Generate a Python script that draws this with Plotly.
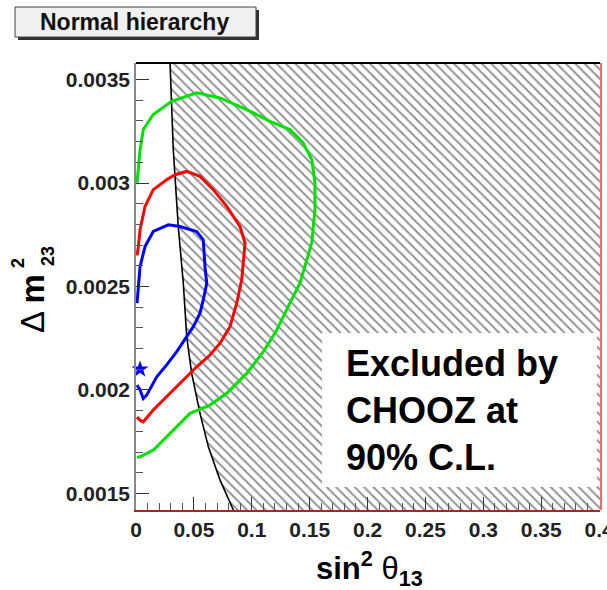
import plotly.graph_objects as go

# Axis extents and tick labels
x_range = [0.0, 0.4008]
y_range = [0.00142, 0.00358]
x_tickvals = [0, 0.05, 0.1, 0.15, 0.2, 0.25, 0.3, 0.35, 0.4]
x_ticktext = ["0", "0.05", "0.1", "0.15", "0.2", "0.25", "0.3", "0.35", "0.4"]
y_tickvals = [0.0015, 0.002, 0.0025, 0.003, 0.0035]
y_ticktext = ["0.0015", "0.002", "0.0025", "0.003", "0.0035"]

# Allowed-region contours (sin^2 theta13, delta m^2_23)
green_sin2 = [0.0009, 0.0035, 0.0063, 0.0149, 0.0308, 0.0524, 0.0726, 0.0956, 0.1158,
              0.1330, 0.1443, 0.1518, 0.1546, 0.1546, 0.1518, 0.1417, 0.1330, 0.1216,
              0.1100, 0.0956, 0.0784, 0.0639, 0.0467, 0.0294, 0.0149, 0.0035, 0.0009]
green_dm2 = [0.003001, 0.003160, 0.003258, 0.003331, 0.003395, 0.003436, 0.003411, 0.003355,
             0.003298, 0.003258, 0.003195, 0.003113, 0.003001, 0.002871, 0.002711, 0.002517,
             0.002421, 0.002290, 0.002185, 0.002080, 0.001984, 0.001927, 0.001887, 0.001790,
             0.001709, 0.001677, 0.001675]

red_sin2 = [0.0009, 0.0020, 0.0035, 0.0078, 0.0149, 0.0265, 0.0337, 0.0438, 0.0553, 0.0668,
            0.0784, 0.0898, 0.0942, 0.0927, 0.0913, 0.0870, 0.0812, 0.0726, 0.0639, 0.0524,
            0.0438, 0.0294, 0.0149, 0.0063, 0.0035, 0.0009]
red_dm2 = [0.002650, 0.002690, 0.002774, 0.002887, 0.002968, 0.003016, 0.003040, 0.003056,
           0.003032, 0.002968, 0.002887, 0.002790, 0.002710, 0.002596, 0.002532, 0.002419,
           0.002306, 0.002226, 0.002169, 0.002112, 0.002064, 0.001984, 0.001903, 0.001846,
           0.001854, 0.001869]

blue_sin2 = [0.0009, 0.0020, 0.0035, 0.0078, 0.0149, 0.0279, 0.0380, 0.0524, 0.0581, 0.0596,
             0.0611, 0.0581, 0.0553, 0.0495, 0.0423, 0.0352, 0.0265, 0.0179, 0.0092, 0.0063,
             0.0035, 0.0009]
blue_dm2 = [0.002420, 0.002480, 0.002596, 0.002693, 0.002766, 0.002798, 0.002790, 0.002766,
            0.002726, 0.002596, 0.002516, 0.002435, 0.002371, 0.002306, 0.002242, 0.002185,
            0.002121, 0.002064, 0.001975, 0.001959, 0.002000, 0.002024]

# Best-fit point
best_sin2 = [0.0035]
best_dm2 = [0.00210]

# CHOOZ 90% C.L. exclusion boundary
chooz_sin2 = [0.0294, 0.0322, 0.0365, 0.0409, 0.0438, 0.0481, 0.0553, 0.0625, 0.0726, 0.0841]
chooz_dm2 = [0.00358, 0.003161, 0.00279, 0.002512, 0.002257, 0.00208, 0.001887, 0.001725,
             0.001564, 0.00142]

FONT = "Liberation Sans, Arial, sans-serif"

fig = go.Figure()

# Hatched excluded region to the right of the CHOOZ boundary
fig.add_trace(go.Scatter(
    x=chooz_sin2 + [x_range[1], x_range[1]],
    y=chooz_dm2 + [y_range[0], y_range[1]],
    mode="none", fill="toself", fillcolor="rgba(0,0,0,0)",
    fillpattern=dict(shape="\\", size=6.6, solidity=0.28, fgcolor="#222", bgcolor="white"),
    hoverinfo="skip", showlegend=False,
))
fig.add_trace(go.Scatter(x=chooz_sin2, y=chooz_dm2, mode="lines",
                         line=dict(color="black", width=1.6), showlegend=False))

for xs, ys, col in [(green_sin2, green_dm2, "#00e000"),
                    (red_sin2, red_dm2, "#ff0000"),
                    (blue_sin2, blue_dm2, "#0000ff")]:
    fig.add_trace(go.Scatter(x=xs, y=ys, mode="lines",
                             line=dict(color=col, width=3), showlegend=False))

fig.add_trace(go.Scatter(x=best_sin2, y=best_dm2, mode="markers",
                         marker=dict(symbol="star", size=13, color="#0000ff"),
                         showlegend=False, cliponaxis=False))

# Plot area is 136..600 px horizontally and 63..510 px vertically
L, R, T, B = 136, 600, 63, 510
W, H = R - L, B - T


def px(x):
    return (x - L) / W


def py(y):
    return (B - y) / H


shapes = [
    # white panel behind the exclusion note
    dict(type="rect", xref="paper", yref="paper", x0=px(322), x1=px(597), y0=py(487), y1=py(333),
         fillcolor="white", line=dict(width=0), layer="above"),
    # frame: top and right edges
    dict(type="line", xref="paper", yref="paper", x0=0, x1=1, y0=1, y1=1,
         line=dict(color="black", width=2)),
    dict(type="line", xref="paper", yref="paper", x0=px(601), x1=px(601), y0=0, y1=1,
         line=dict(color="#e87070", width=2)),
    # title box with drop shadow
    dict(type="rect", xref="paper", yref="paper", x0=px(18), x1=px(259), y0=py(40), y1=py(10),
         fillcolor="#303030", line=dict(width=0)),
    dict(type="rect", xref="paper", yref="paper", x0=px(15), x1=px(256), y0=py(37), y1=py(7),
         fillcolor="#f0f0f0", line=dict(color="#404040", width=1)),
]

annotations = [
    dict(text="<b>Normal hierarchy</b>", xref="paper", yref="paper", x=px(134), y=py(22),
         xanchor="center", yanchor="middle", showarrow=False,
         font=dict(family=FONT, size=23, color="#111")),
    dict(text="<b>Excluded by<br>CHOOZ at<br>90% C.L.</b>", xref="paper", yref="paper",
         x=px(344), y=py(410), xanchor="left", yanchor="middle", align="left", showarrow=False,
         font=dict(family=FONT, size=36, color="black")),
    # y-axis title: delta m^2_23 with stacked indices
    dict(text="Δ <b>m</b>", xref="paper", yref="paper", x=px(32), y=py(304), textangle=-90,
         xanchor="center", yanchor="middle", showarrow=False,
         font=dict(family=FONT, size=33, color="black")),
    dict(text="<b>2</b>", xref="paper", yref="paper", x=px(18), y=py(263), textangle=-90,
         xanchor="center", yanchor="middle", showarrow=False,
         font=dict(family=FONT, size=18, color="black")),
    dict(text="<b>23</b>", xref="paper", yref="paper", x=px(48), y=py(256), textangle=-90,
         xanchor="center", yanchor="middle", showarrow=False,
         font=dict(family=FONT, size=18, color="black")),
    # x-axis title
    dict(text="<b>sin<sup>2</sup></b> θ<sub><b>13</b></sub>", xref="paper", yref="paper",
         x=px(369), y=py(568), xanchor="center", yanchor="middle", showarrow=False,
         font=dict(family=FONT, size=31, color="black")),
]

fig.update_layout(
    width=607, height=590,
    margin=dict(l=L, r=607 - R, t=T, b=590 - B, autoexpand=False),
    paper_bgcolor="white", plot_bgcolor="white",
    shapes=shapes, annotations=annotations,
    xaxis=dict(range=x_range, tickvals=x_tickvals, ticktext=x_ticktext,
               ticks="inside", ticklen=13, tickwidth=1, tickcolor="#333",
               ticklabeloverflow="allow", automargin=False,
               minor=dict(dtick=0.01, ticks="inside", ticklen=7, tickcolor="#555"),
               showgrid=False, zeroline=False, showline=True, linecolor="#b22222", linewidth=2,
               tickfont=dict(family=FONT, size=21, color="#222", weight="bold")),
    yaxis=dict(range=y_range, tickvals=y_tickvals, ticktext=y_ticktext,
               ticks="inside", ticklen=13, tickwidth=1, tickcolor="#333", automargin=False,
               minor=dict(dtick=0.0001, ticks="inside", ticklen=7, tickcolor="#555"),
               showgrid=False, zeroline=False, showline=True, linecolor="#888", linewidth=1.5,
               tickfont=dict(family=FONT, size=21, color="#222", weight="bold")),
)

fig.write_html("out.html")
